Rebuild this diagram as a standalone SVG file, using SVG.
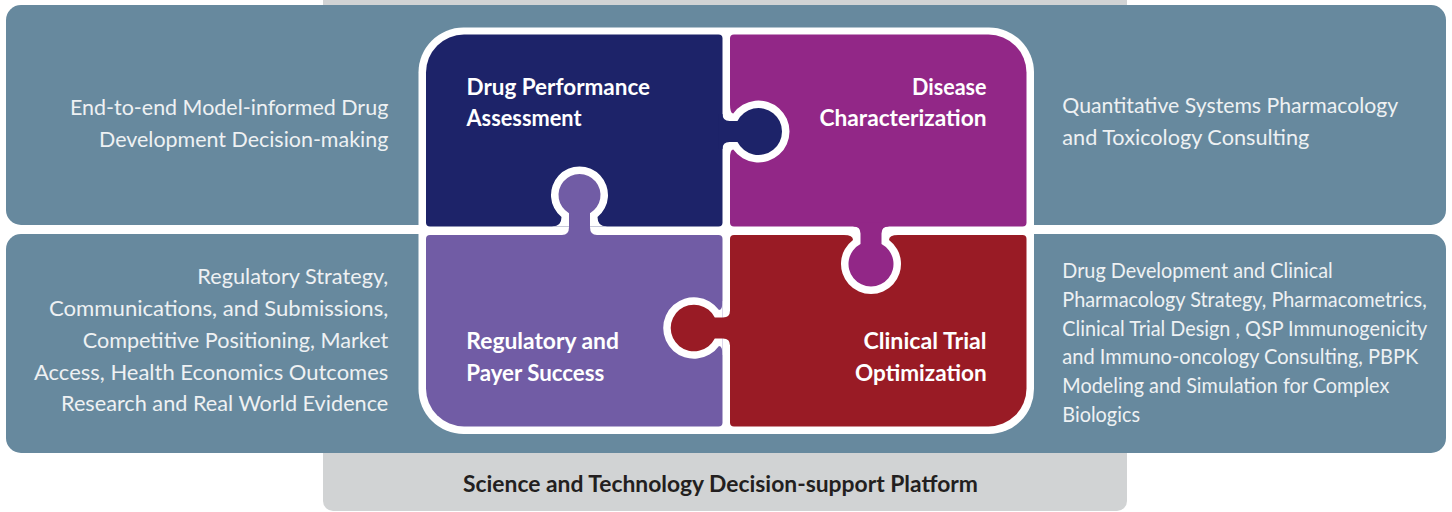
<svg xmlns="http://www.w3.org/2000/svg" width="1452" height="512" viewBox="0 0 1452 512">
<style>
.band{fill:#67899e}
.gray{fill:#d1d3d4}
.body{font-family:Lato,"Open Sans","Liberation Sans",sans-serif;font-weight:400;fill:#eef1f3;font-size:22px}
.body2{font-family:Lato,"Open Sans","Liberation Sans",sans-serif;font-weight:400;fill:#eef1f3;font-size:20.5px}
.lbl{font-family:Lato,"Liberation Sans",sans-serif;font-weight:700;fill:#ffffff;font-size:23.5px}
.plat{font-family:Lato,"Liberation Sans",sans-serif;font-weight:700;fill:#231f20;font-size:23px}
.halo{fill:#ffffff}
</style>
<defs>
<path id="k1" d="M-4,-17.5 L0,-17.5 Q0,-10.5 7,-10.5 L14.98,-10.5 A23.5,23.5 0 1 1 14.98,10.5 L7,10.5 Q0,10.5 0,17.5 L-4,17.5 Z"/>
<path id="k2" d="M-4,-17.5 L0,-17.5 Q0,-10.5 7,-10.5 L17.6,-10.5 A22.5,22.5 0 1 1 17.6,10.5 L7,10.5 Q0,10.5 0,17.5 L-4,17.5 Z"/>
<path id="k3" d="M-4,-17.5 L0,-17.5 Q0,-10.5 7,-10.5 L15.2,-10.5 A23.3,23.3 0 1 1 15.2,10.5 L7,10.5 Q0,10.5 0,17.5 L-4,17.5 Z"/>
<path id="k4" d="M-4,-17.5 L0,-17.5 Q0,-10.5 8,-10.5 L21.8,-10.5 A21,21 0 1 1 21.8,10.5 L8,10.5 Q0,10.5 0,17.5 L-4,17.5 Z"/>
<path id="h1" d="M0,-27 L7.5,-27 Q7.5,-18 10.76,-18 A31,31 0 1 1 10.76,18 Q7.5,18 7.5,27 L0,27 Z"/>
<path id="h2" d="M0,-27 L8.5,-27 Q8.5,-18 13.5,-18 A30,30 0 1 1 13.5,18 Q8.5,18 8.5,27 L0,27 Z"/>
<path id="h3" d="M0,-27 L7.5,-27 Q7.5,-18 11,-18 A30.8,30.8 0 1 1 11,18 Q7.5,18 7.5,27 L0,27 Z"/>
<path id="h4" d="M0,-27 L8.5,-27 Q8.5,-18 17.9,-18 A28.5,28.5 0 1 1 17.9,18 Q8.5,18 8.5,27 L0,27 Z"/>
<clipPath id="cPurple"><rect x="730" y="0" width="722" height="512"/></clipPath>
<clipPath id="cRed"><rect x="0" y="235" width="1452" height="277"/></clipPath>
<clipPath id="cLav"><rect x="0" y="0" width="722.5" height="512"/></clipPath>
<clipPath id="cNavy"><rect x="0" y="0" width="1452" height="226.5"/></clipPath>
</defs>
<rect width="1452" height="512" fill="#ffffff"/>
<g id="platform">
<rect class="gray" x="323" y="0" width="804" height="6"/>
<path class="gray" d="M323,440 L1127,440 L1127,501 A10,10 0 0 1 1117,511 L333,511 A10,10 0 0 1 323,501 Z"/>
<text class="plat" x="463" y="492" textLength="515" lengthAdjust="spacingAndGlyphs">Science and Technology Decision-support Platform</text>
</g>
<g id="band-top">
<rect class="band" x="6" y="5" width="1440" height="220" rx="15"/>
<text class="body" x="70" y="115" textLength="318.3" lengthAdjust="spacingAndGlyphs">End-to-end Model-informed Drug</text>
<text class="body" x="99" y="146.7" textLength="289.3" lengthAdjust="spacingAndGlyphs">Development Decision-making</text>
<text class="body" x="1062.3" y="113.3" textLength="336" lengthAdjust="spacingAndGlyphs">Quantitative Systems Pharmacology</text>
<text class="body" x="1062.3" y="145" textLength="247" lengthAdjust="spacingAndGlyphs">and Toxicology Consulting</text>
</g>
<g id="band-bottom">
<rect class="band" x="6" y="234" width="1440" height="219" rx="15"/>
<text class="body" x="197.3" y="284.3" textLength="191" lengthAdjust="spacingAndGlyphs">Regulatory Strategy,</text>
<text class="body" x="49" y="316" textLength="339.3" lengthAdjust="spacingAndGlyphs">Communications, and Submissions,</text>
<text class="body" x="82.7" y="348" textLength="305.6" lengthAdjust="spacingAndGlyphs">Competitive Positioning, Market</text>
<text class="body" x="34" y="379.5" textLength="354.3" lengthAdjust="spacingAndGlyphs">Access, Health Economics Outcomes</text>
<text class="body" x="61" y="411" textLength="327.3" lengthAdjust="spacingAndGlyphs">Research and Real World Evidence</text>
<text class="body2" x="1062.3" y="278.3" textLength="270.4" lengthAdjust="spacingAndGlyphs">Drug Development and Clinical</text>
<text class="body2" x="1062.3" y="307" textLength="364.4" lengthAdjust="spacingAndGlyphs">Pharmacology Strategy, Pharmacometrics,</text>
<text class="body2" x="1062.3" y="335.7" textLength="365" lengthAdjust="spacingAndGlyphs">Clinical Trial Design , QSP Immunogenicity</text>
<text class="body2" x="1062.3" y="364.4" textLength="356" lengthAdjust="spacingAndGlyphs">and Immuno-oncology Consulting, PBPK</text>
<text class="body2" x="1062.3" y="393" textLength="327" lengthAdjust="spacingAndGlyphs">Modeling and Simulation for Complex</text>
<text class="body2" x="1062.3" y="421.7" textLength="77.7" lengthAdjust="spacingAndGlyphs">Biologics</text>
</g>
<rect id="puzzle-frame" x="418.5" y="27.5" width="615.5" height="406.5" rx="45" fill="#ffffff"/>
<g id="piece-drug-performance">
<path fill="#1d2369" d="M426,72.5 A38,38 0 0 1 464,34.5 L718.5,34.5 A4,4 0 0 1 722.5,38.5 L722.5,222.5 A4,4 0 0 1 718.5,226.5 L430,226.5 A4,4 0 0 1 426,222.5 Z"/>
</g>
<g id="piece-disease">
<path fill="#922787" d="M734,34.5 L988.5,34.5 A38,38 0 0 1 1026.5,72.5 L1026.5,222.5 A4,4 0 0 1 1022.5,226.5 L734,226.5 A4,4 0 0 1 730,222.5 L730,38.5 A4,4 0 0 1 734,34.5 Z"/>
</g>
<g id="piece-regulatory">
<path fill="#715ca5" d="M430,235 L718.5,235 A4,4 0 0 1 722.5,239 L722.5,422.5 A4,4 0 0 1 718.5,426.5 L464,426.5 A38,38 0 0 1 426,388.5 L426,239 A4,4 0 0 1 430,235 Z"/>
</g>
<g id="piece-clinical">
<path fill="#991b25" d="M734,235 L1022.5,235 A4,4 0 0 1 1026.5,239 L1026.5,388.5 A38,38 0 0 1 988.5,426.5 L734,426.5 A4,4 0 0 1 730,422.5 L730,239 A4,4 0 0 1 734,235 Z"/>
</g>
<g id="tab-cutouts">
<g clip-path="url(#cPurple)"><use href="#h1" class="halo" transform="translate(722.5,131.5)"/></g>
<g clip-path="url(#cRed)"><use href="#h2" class="halo" transform="translate(871,226.5) rotate(90)"/></g>
<g clip-path="url(#cLav)"><use href="#h3" class="halo" transform="translate(730,328) rotate(180)"/></g>
<g clip-path="url(#cNavy)"><use href="#h4" class="halo" transform="translate(579.5,235) rotate(-90)"/></g>
</g>
<g id="tabs">
<use href="#k1" fill="#1d2369" transform="translate(722.5,131.5)"/>
<use href="#k2" fill="#922787" transform="translate(871,226.5) rotate(90)"/>
<use href="#k3" fill="#991b25" transform="translate(730,328) rotate(180)"/>
<use href="#k4" fill="#715ca5" transform="translate(579.5,235) rotate(-90)"/>
</g>
<g id="labels">
<text class="lbl" x="466.5" y="94.5" textLength="183.5" lengthAdjust="spacingAndGlyphs">Drug Performance</text>
<text class="lbl" x="466.5" y="126" textLength="115" lengthAdjust="spacingAndGlyphs">Assessment</text>
<text class="lbl" x="912" y="94.5" textLength="74.6" lengthAdjust="spacingAndGlyphs">Disease</text>
<text class="lbl" x="819.5" y="126" textLength="167" lengthAdjust="spacingAndGlyphs">Characterization</text>
<text class="lbl" x="466.3" y="348.5" textLength="152.6" lengthAdjust="spacingAndGlyphs">Regulatory and</text>
<text class="lbl" x="466.3" y="380.5" textLength="138" lengthAdjust="spacingAndGlyphs">Payer Success</text>
<text class="lbl" x="863.4" y="348.5" textLength="123.2" lengthAdjust="spacingAndGlyphs">Clinical Trial</text>
<text class="lbl" x="855" y="380.5" textLength="131.6" lengthAdjust="spacingAndGlyphs">Optimization</text>
</g>
<g id="connectors"/>
</svg>
